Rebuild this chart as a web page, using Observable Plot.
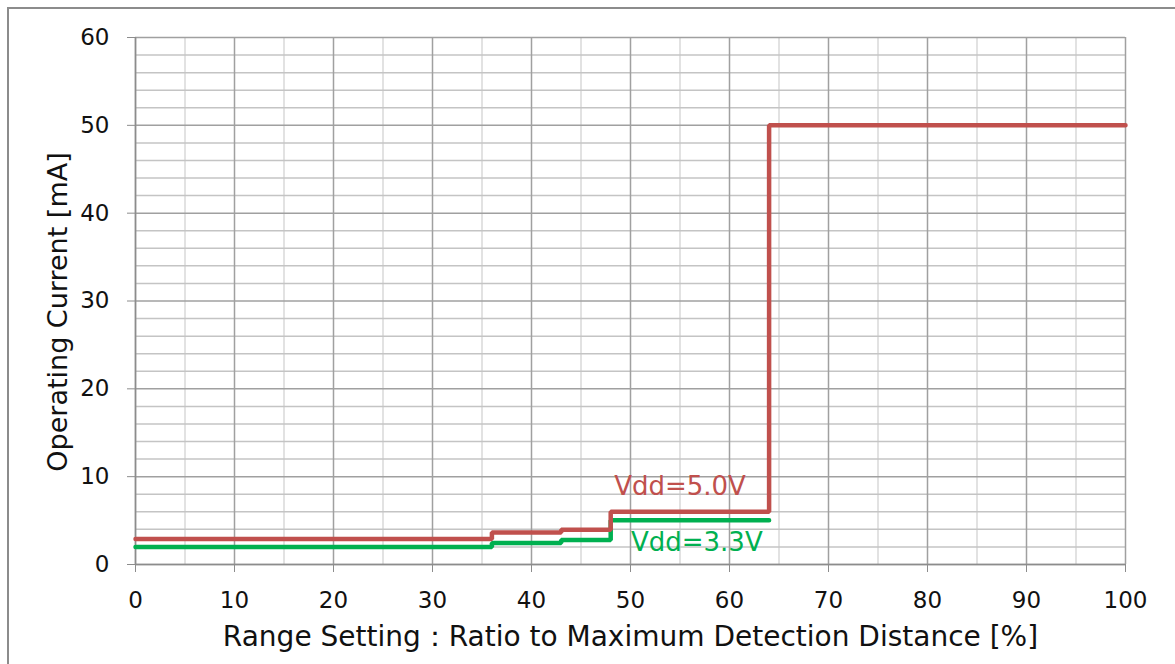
<!DOCTYPE html>
<html>
<head>
<meta charset="utf-8">
<script src="https://cdn.jsdelivr.net/npm/d3@7"></script>
<script src="https://cdn.jsdelivr.net/npm/@observablehq/plot@0.6"></script>
<style>
  html, body { margin: 0; padding: 0; background: #fff; }
  #wrap { position: relative; width: 1175px; height: 664px; overflow: hidden; }
  #frame { position: absolute; left: 7px; top: 7px; width: 1200px; height: 700px;
           border-left: 2px solid #8c8c8c; border-top: 2px solid #8c8c8c; }
  #chart { position: absolute; left: 0; top: 0; }
  svg { font-family: "DejaVu Sans", sans-serif; }
</style>
</head>
<body>
<div id="wrap"><div id="frame"></div><div id="chart"></div></div>
<script>
// Data
const xTicks = [0, 10, 20, 30, 40, 50, 60, 70, 80, 90, 100];
const yTicks = [0, 10, 20, 30, 40, 50, 60];
const xMinorGrid = [5, 15, 25, 35, 45, 55, 65, 75, 85, 95];
const yMinorGrid = [2, 4, 6, 8, 12, 14, 16, 18, 22, 24, 26, 28, 32, 34, 36, 38, 42, 44, 46, 48, 52, 54, 56, 58];

const range50 = [0, 36, 43, 48, 64, 100];
const current50 = [2.9, 3.65, 3.95, 6.0, 50, 50];
const range33 = [0, 36, 43, 48, 64];
const current33 = [2.0, 2.45, 2.8, 5.05, 5.05];

const seriesNames = ["Vdd=5.0V", "Vdd=3.3V"];
const seriesColors = ["#c0504d", "#00b050"];
const labelX = [55.0, 56.7];
const labelY = [8.85, 2.45];

const xTitle = "Range Setting：Ratio to Maximum Detection Distance [%]";
const yTitle = "Operating Current [mA]";

const s50 = range50.map((x, i) => ({x, y: current50[i]}));
const s33 = range33.map((x, i) => ({x, y: current33[i]}));
const labels = seriesNames.map((t, i) => ({t, x: labelX[i], y: labelY[i], c: seriesColors[i]}));

const chart = Plot.plot({
  width: 1175,
  height: 664,
  marginLeft: 135,
  marginRight: 50,
  marginTop: 37,
  marginBottom: 100,
  x: {domain: [0, 100]},
  y: {domain: [0, 60]},
  style: {fontFamily: "DejaVu Sans, sans-serif", color: "#111", background: "transparent", overflow: "visible"},
  marks: [
    Plot.ruleX(xMinorGrid, {stroke: "#d9d9d9", strokeWidth: 1.5}),
    Plot.ruleY(yMinorGrid, {stroke: "#c4c4c4", strokeWidth: 1.5}),
    Plot.ruleX(xTicks, {stroke: "#a0a0a0", strokeWidth: 1.5}),
    Plot.ruleY(yTicks, {stroke: "#a0a0a0", strokeWidth: 1.5}),
    Plot.ruleX([0], {stroke: "#8c8c8c", strokeWidth: 1.5}),
    Plot.ruleY([0], {stroke: "#8c8c8c", strokeWidth: 1.5}),
    Plot.axisX({ticks: xTicks, tickSize: 8, tickPadding: 19, fontSize: 23, stroke: "#8c8c8c", label: null, tickFormat: d => String(d)}),
    Plot.axisY({ticks: yTicks, tickSize: 8, tickPadding: 18, fontSize: 23, stroke: "#8c8c8c", label: null, tickFormat: d => String(d)}),
    Plot.line(s33, {x: "x", y: "y", curve: "step-after", stroke: seriesColors[1], strokeWidth: 4.5, strokeLinejoin: "miter"}),
    Plot.line(s50, {x: "x", y: "y", curve: "step-after", stroke: seriesColors[0], strokeWidth: 4.5, strokeLinejoin: "miter"}),
    Plot.text(labels, {x: "x", y: "y", text: "t", fill: "c", fontSize: 26, textAnchor: "middle", lineAnchor: "middle"}),
    Plot.text([xTitle], {frameAnchor: "bottom", text: d => d, fontSize: 28, dy: 73, textAnchor: "middle", lineAnchor: "middle", fill: "#111"}),
    Plot.text([yTitle], {frameAnchor: "left", text: d => d, fontSize: 27, rotate: -90, dx: -77, dy: 11, textAnchor: "middle", lineAnchor: "middle", fill: "#111"})
  ]
});
document.getElementById("chart").appendChild(chart);
</script>
</body>
</html>
